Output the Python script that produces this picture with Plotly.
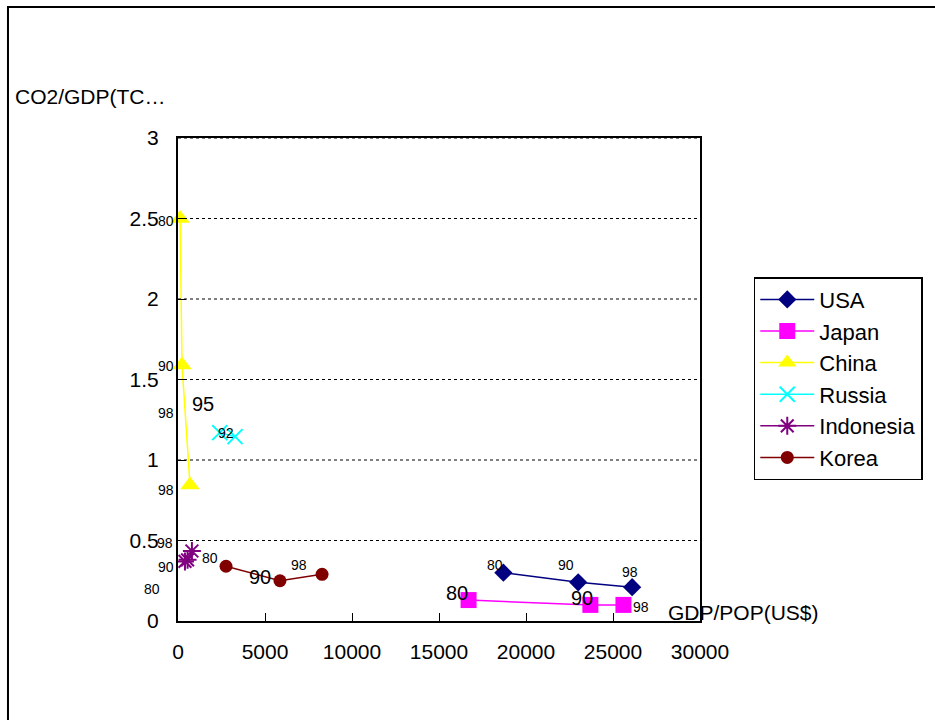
import plotly.graph_objects as go

# ---- data ----
usa_x = [18700, 23000, 26100]
usa_y = [0.30, 0.24, 0.21]
japan_x = [16700, 23700, 25600]
japan_y = [0.13, 0.10, 0.10]
china_x = [120, 230, 690]
china_y = [2.50, 1.59, 0.845]
russia_x = [2400, 3280]
russia_y = [1.17, 1.145]
indo_x = [400, 550, 800]
indo_y = [0.37, 0.38, 0.435]
korea_x = [2760, 5860, 8280]
korea_y = [0.34, 0.25, 0.29]

# year labels
label_text = ["80", "90", "98",
              "80", "90", "98",
              "80", "90", "95", "98", "98",
              "92",
              "98", "90", "80",
              "80", "90", "98"]
label_x = [18200, 22300, 25950,
           16050, 23200, 26600,
           -690, -690, 1440, -690, -690,
           2760,
           -750, -690, -1490,
           1840, 4710, 6950]
label_y = [0.35, 0.35, 0.305,
           0.175, 0.143, 0.087,
           2.484, 1.584, 1.348, 1.292, 0.814,
           1.168,
           0.484, 0.335, 0.199,
           0.391, 0.273, 0.348]
label_big = [False, False, False,
             True, True, False,
             False, False, True, False, False,
             False,
             False, False, False,
             False, True, False]

x_ticks = [0, 5000, 10000, 15000, 20000, 25000, 30000]
x_tick_text = ["0", "5000", "10000", "15000", "20000", "25000", "30000"]
y_ticks = [0, 0.5, 1, 1.5, 2, 2.5, 3]
y_tick_text = ["0", "0.5", "1", "1.5", "2", "2.5", "3"]

X_RANGE = [0, 30000]
Y_RANGE = [0, 3]
FONT = "Arial, Liberation Sans, sans-serif"

fig = go.Figure()
series = [
    ("USA", usa_x, usa_y, "#000080", "diamond", 14),
    ("Japan", japan_x, japan_y, "#FF00FF", "square", 16),
    ("China", china_x, china_y, "#FFFF00", "triangle-up", 17),
    ("Russia", russia_x, russia_y, "#00FFFF", "x-thin-open", 15),
    ("Indonesia", indo_x, indo_y, "#800080", "asterisk-open", 15),
    ("Korea", korea_x, korea_y, "#800000", "circle", 13),
]
for name, xs, ys, col, sym, sz in series:
    mk = dict(color=col, symbol=sym, size=sz)
    if sym.endswith("open"):
        mk["line"] = dict(color=col, width=2)
    fig.add_trace(go.Scatter(x=xs, y=ys, name=name, mode="lines+markers",
                             line=dict(color=col, width=1.5), marker=mk,
                             cliponaxis=False))

# labels placed in paper coords (derived from data values) so they can sit outside the axis range
for t, x, y, big in zip(label_text, label_x, label_y, label_big):
    px = (x - X_RANGE[0]) / (X_RANGE[1] - X_RANGE[0])
    py = (y - Y_RANGE[0]) / (Y_RANGE[1] - Y_RANGE[0])
    fig.add_annotation(xref="paper", yref="paper", x=px, y=py, text=t,
                       xanchor="center", yanchor="middle", showarrow=False,
                       font=dict(size=20 if big else 14, color="black", family=FONT))

# axis titles
fig.add_annotation(xref="paper", yref="paper", x=-0.316, y=1.085,
                   xanchor="left", yanchor="middle", text="CO2/GDP(TC…",
                   showarrow=False, font=dict(size=21, color="black", family=FONT))
fig.add_annotation(xref="paper", yref="paper", x=0.935, y=0.017,
                   xanchor="left", yanchor="middle", text="GDP/POP(US$)",
                   showarrow=False, font=dict(size=21, color="black", family=FONT))

# outer chart border
fig.add_shape(type="rect", xref="paper", yref="paper",
              x0=-0.3257, y0=-0.25, x1=1.5, y1=1.271,
              line=dict(color="black", width=2), layer="below")

# grid lines (dotted)
for v in y_ticks[1:]:
    fig.add_shape(type="line", xref="paper", yref="y", x0=0, x1=1, y0=v, y1=v,
                  line=dict(color="black", width=1, dash="dot"))

fig.update_layout(
    width=935, height=720,
    margin=dict(l=178, r=235, t=138, b=99),
    paper_bgcolor="white", plot_bgcolor="white",
    font=dict(family=FONT, color="black", size=21),
    showlegend=True,
    legend=dict(x=1.103, y=0.712, xanchor="left", yanchor="top",
                bordercolor="black", borderwidth=1.5, bgcolor="white",
                font=dict(size=22, family=FONT), tracegroupgap=0,
                itemwidth=54),
)
fig.update_xaxes(range=X_RANGE, tickvals=x_ticks, ticktext=x_tick_text,
                 ticks="inside", ticklen=8,
                 tickcolor="black", showline=True, linecolor="black", linewidth=2,
                 mirror=True, showgrid=False, zeroline=False,
                 tickfont=dict(size=21), ticklabelstandoff=11)
fig.update_yaxes(range=Y_RANGE, tickvals=y_ticks, ticktext=y_tick_text,
                 ticks="inside", ticklen=8, tickcolor="black", showline=True,
                 linecolor="black", linewidth=2, mirror=True, showgrid=False,
                 zeroline=False, tickfont=dict(size=21), ticklabelstandoff=13)

fig.write_html("out.html")
